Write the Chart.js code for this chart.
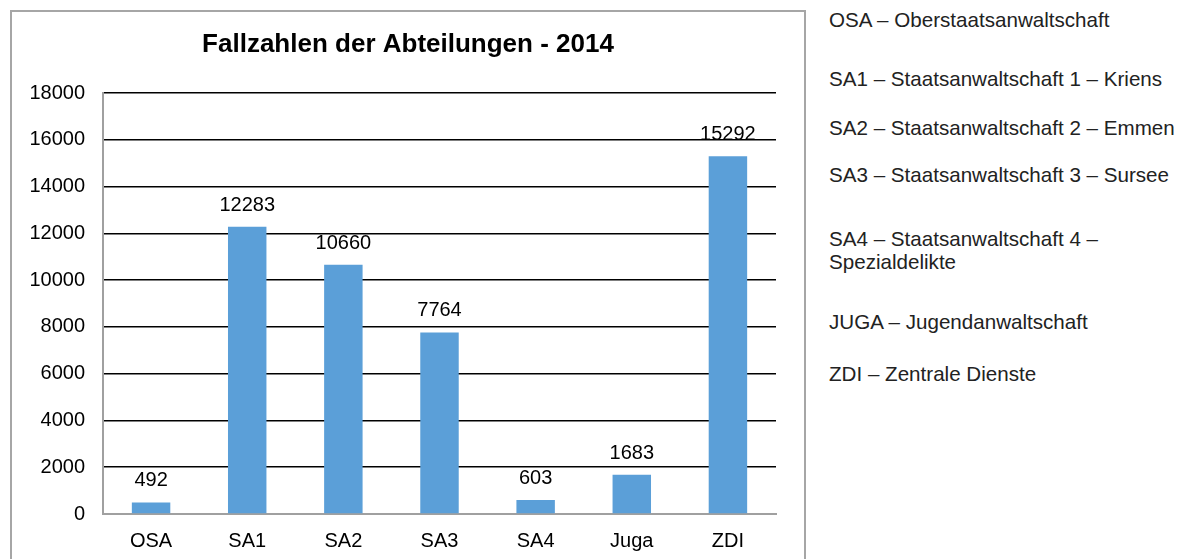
<!DOCTYPE html>
<html>
<head>
<meta charset="utf-8">
<script src="https://cdn.jsdelivr.net/npm/chart.js@4"></script>
<style>
  body { margin: 0; background: #fff; font-family: "Liberation Sans", Arial, sans-serif; }
  #box { position: absolute; left: 10px; top: 10px; width: 792px; height: 560px; border: 2px solid #a6a6a6; border-bottom: none; }
  #wrap { position: absolute; left: 0; top: 0; width: 816px; height: 559px; }
  #notes p { position: absolute; left: 829px; margin: 0; font-size: 20.6px; line-height: 23px; color: #222; white-space: nowrap; }
</style>
</head>
<body>
<div id="box"></div>
<div id="wrap"><canvas id="barChart"></canvas></div>
<div id="notes">
  <p style="top:8px">OSA – Oberstaatsanwaltschaft</p>
  <p style="top:67px">SA1 – Staatsanwaltschaft 1 – Kriens</p>
  <p style="top:116px">SA2 – Staatsanwaltschaft 2 – Emmen</p>
  <p style="top:163px">SA3 – Staatsanwaltschaft 3 – Sursee</p>
  <p style="top:227px">SA4 – Staatsanwaltschaft 4 –<br>Spezialdelikte</p>
  <p style="top:310px">JUGA – Jugendanwaltschaft</p>
  <p style="top:362px">ZDI – Zentrale Dienste</p>
</div>
<script>
var chartTitle = 'Fallzahlen der Abteilungen - 2014';
var categories = ['OSA', 'SA1', 'SA2', 'SA3', 'SA4', 'Juga', 'ZDI'];
var caseCounts = [492, 12283, 10660, 7764, 603, 1683, 15292];
var yMin = 0, yMax = 18000, yStep = 2000;

var fontFamily = '"Liberation Sans", Arial, sans-serif';

// title centred over the whole frame, not the plot
var frameTitle = {
  id: 'frameTitle',
  afterDraw: function(chart) {
    var ctx = chart.ctx;
    ctx.save();
    ctx.font = 'bold 26px ' + fontFamily;
    ctx.fillStyle = '#000';
    ctx.textAlign = 'center';
    ctx.textBaseline = 'middle';
    ctx.fillText(chartTitle, chart.width / 2, 45);
    ctx.restore();
  }
};

// numbers above the bars
var valueLabels = {
  id: 'valueLabels',
  afterDatasetsDraw: function(chart) {
    var ctx = chart.ctx;
    var meta = chart.getDatasetMeta(0);
    ctx.save();
    ctx.font = '20px ' + fontFamily;
    ctx.fillStyle = '#000';
    ctx.textAlign = 'center';
    ctx.textBaseline = 'alphabetic';
    meta.data.forEach(function(bar, i) {
      ctx.fillText(String(caseCounts[i]), bar.x, bar.y - 16);
    });
    ctx.restore();
  }
};

new Chart(document.getElementById('barChart'), {
  type: 'bar',
  data: {
    labels: categories,
    datasets: [{
      data: caseCounts,
      backgroundColor: '#5b9fd8',
      barPercentage: 0.4,
      categoryPercentage: 1
    }]
  },
  options: {
    responsive: true,
    maintainAspectRatio: false,
    animation: false,
    layout: { padding: { left: 0, right: 40, top: 93, bottom: 0 } },
    plugins: {
      legend: { display: false },
      tooltip: { enabled: false },
      title: { display: false }
    },
    scales: {
      x: {
        grid: { display: false },
        border: { color: '#a0a0a0', width: 2 },
        ticks: { color: '#000', font: { family: fontFamily, size: 20 }, padding: 7 },
        afterFit: function(s) { s.height = 45; }
      },
      y: {
        min: yMin,
        max: yMax,
        ticks: {
          stepSize: yStep,
          color: '#000',
          font: { family: fontFamily, size: 20 },
          padding: 18,
          callback: function(v) { return String(v); }
        },
        grid: {
          drawTicks: false,
          lineWidth: 1.5,
          color: function(c) { return c.tick && c.tick.value === 0 ? 'rgba(0,0,0,0)' : '#000'; }
        },
        border: { color: '#a0a0a0', width: 2 },
        afterFit: function(s) { s.width = 103; }
      }
    }
  },
  plugins: [valueLabels, frameTitle]
});
</script>
</body>
</html>
